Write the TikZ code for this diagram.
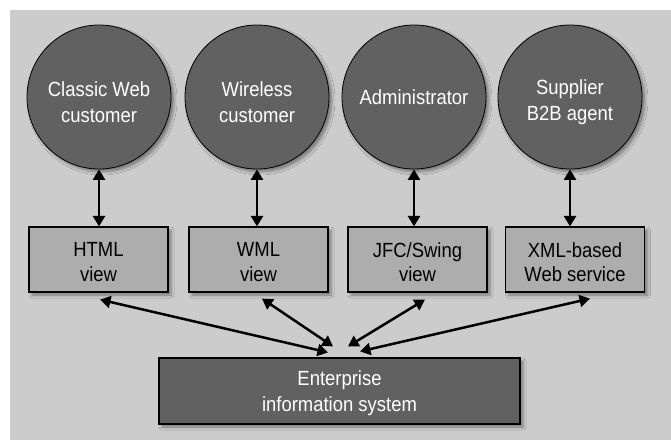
\documentclass[tikz,border=0pt]{standalone}
\usepackage{fontspec}
\setmainfont{Liberation Sans}[FakeStretch=0.9]
\usetikzlibrary{arrows.meta,shadows,shadows.blur}
\definecolor{bggray}{RGB}{204,204,204}
\definecolor{darkfill}{RGB}{97,97,97}
\definecolor{boxfill}{RGB}{173,173,173}
\tikzset{
  softshadow/.style={blur shadow={shadow xshift=3pt, shadow yshift=-3pt, shadow blur radius=3pt, shadow opacity=40}},
  actor/.style={circle, draw=black, line width=0.8pt, fill=darkfill, minimum size=144pt, inner sep=0pt, softshadow},
  actortext/.style={inner sep=0pt, text=white, align=center, font=\fontsize{20.5}{25.5}\selectfont},
  viewbox/.style={rectangle, draw=black, line width=1.2pt, fill=boxfill, minimum width=139pt, minimum height=65pt,
    inner sep=0pt, softshadow},
  viewtext/.style={inner sep=0pt, align=center, font=\fontsize{20.5}{24.5}\selectfont},
  eisbox/.style={viewbox, fill=darkfill, minimum width=361pt, minimum height=66pt},
  eistext/.style={inner sep=0pt, text=white, align=center, font=\fontsize{20.5}{26}\selectfont},
  dbl/.style={line width=2.5pt, {Triangle[length=10.5pt,width=12pt]}-{Triangle[length=10.5pt,width=12pt]}}
}
\begin{document}
\begin{tikzpicture}[x=1pt,y=-1pt]
\useasboundingbox (0,0) rectangle (671,440);
\fill[bggray] (10,10) rectangle (671,440);
\node[actor] (c1) at (99,97) {};
\node[actor] (c2) at (257,97) {};
\node[actor] (c3) at (414,97) {};
\node[actor] (c4) at (570,97) {};
\node[actortext] (t1) at ([yshift=-5pt]c1.center) {Classic Web\\customer};
\node[actortext] (t2) at ([yshift=-5pt]c2.center) {Wireless\\customer};
\node[actortext] (t3) at (c3.center) {Administrator};
\node[actortext] (t4) at ([yshift=-5pt]c4.center) {Supplier\\B2B agent};
\node[viewbox] (b1) at (98.5,259.5) {};
\node[viewbox] (b2) at (258.5,259.5) {};
\node[viewbox] (b3) at (417.5,259.5) {};
\node[viewbox] (b4) at (575,259.5) {};
\node[viewtext] (v1) at ([yshift=-2.5pt]b1.center) {HTML\\view};
\node[viewtext] (v2) at ([yshift=-2.5pt]b2.center) {WML\\view};
\node[viewtext] (v3) at ([yshift=-2.5pt]b3.center) {JFC/Swing\\view};
\node[viewtext] (v4) at ([yshift=-2.5pt]b4.center) {XML-based\\Web service};
\node[eisbox] (eis) at (339.5,391) {};
\node[eistext] (et) at ([yshift=-2.5pt]eis.center) {Enterprise\\information system};
\draw[dbl] (c1.south) -- (c1.south |- b1.north);
\draw[dbl] (c2.south) -- (c2.south |- b2.north);
\draw[dbl] (c3.south) -- (c3.south |- b3.north);
\draw[dbl] (c4.south) -- (c4.south |- b4.north);
\draw[dbl] ([xshift=1.5pt,yshift=-7pt]b1.south) -- ([xshift=-11.5pt,yshift=5pt]eis.north);
\draw[dbl] ([xshift=3.5pt,yshift=-6pt]b2.south) -- ([xshift=-6.5pt,yshift=11pt]eis.north);
\draw[dbl] ([xshift=7.5pt,yshift=-7pt]b3.south) -- ([xshift=8.5pt,yshift=11pt]eis.north);
\draw[dbl] ([xshift=15pt,yshift=-6pt]b4.south) -- ([xshift=20.5pt,yshift=6pt]eis.north);
\end{tikzpicture}
\end{document}
